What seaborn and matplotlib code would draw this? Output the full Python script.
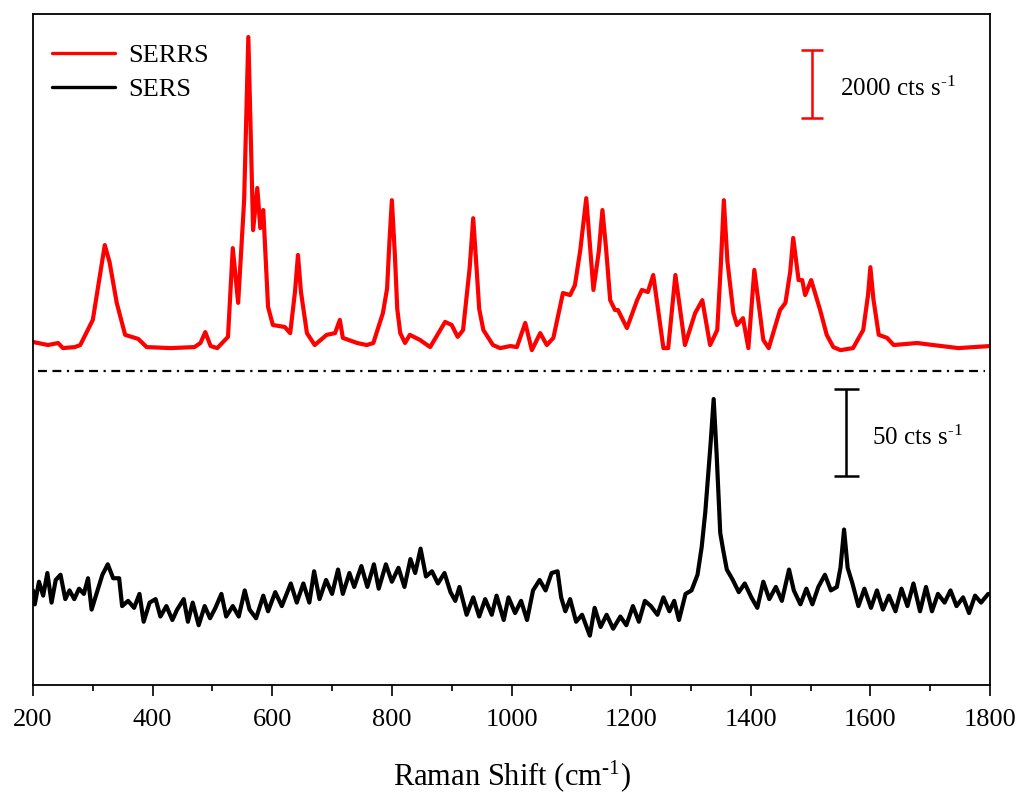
import numpy as np
import pandas as pd
import matplotlib
matplotlib.use("Agg")
import matplotlib.pyplot as plt
from matplotlib.ticker import MultipleLocator
import seaborn as sns

# ---------------- data ----------------
serrs_shift = [200, 225, 242, 250, 270, 279, 300, 312, 320, 328, 340, 354, 376, 390, 430, 470, 480,
               488, 497, 508, 526, 534, 543, 553, 560, 568, 575, 580, 585, 593, 601, 621,
               630, 638, 643, 648, 658, 671, 691, 705, 713, 718, 742, 758, 769, 785, 792, 796, 800,
               805, 809, 814, 822,
               830, 847, 864, 889, 900, 910, 919, 930, 936, 942, 946, 953, 969, 981, 998, 1009, 1023,
               1034,
               1048, 1059, 1070, 1086, 1098, 1106, 1115, 1125, 1137, 1146, 1152, 1158, 1165, 1173, 1178,
               1193, 1210, 1218, 1228, 1237, 1254, 1262, 1274, 1290, 1307, 1319, 1332, 1344,
               1350, 1355, 1361, 1371, 1377, 1387, 1396, 1406, 1421, 1430, 1449, 1458, 1466, 1471,
               1480, 1486,
               1491, 1501, 1516, 1527, 1538, 1550, 1571, 1588, 1596, 1600, 1605, 1614, 1628, 1639,
               1678, 1705, 1747, 1800]
serrs_counts = [530, 440, 500, 350, 380, 440, 1180, 2500, 3380, 2880, 1680, 740, 620, 380, 350, 380, 500,
                820, 410, 350, 680, 3290, 1680, 4700, 9500, 3820, 5060, 3880, 4410, 1560, 1030, 970,
                790, 2000, 3090, 2000, 790, 440, 740, 790, 1180, 650, 500, 440, 500, 1380, 2100, 3500, 4700,
                3100, 1500, 790, 500,
                740, 590, 380, 1120, 1030, 680, 880, 2700, 4170, 2600, 1500, 880, 440, 350, 410, 380, 1090,
                290,
                790, 440, 650, 1970, 1910, 2200, 3230, 4760, 2060, 3200, 4410, 3300, 1760, 1470, 1470,
                940, 1760, 2060, 2000, 2500, 350, 350, 2500, 440, 1380, 1760, 440, 880,
                2800, 4700, 2900, 1380, 1030, 1230, 350, 2650, 590, 350, 1470, 1680, 2600, 3590,
                2350, 2350,
                1910, 2350, 1470, 740, 380, 290, 350, 880, 1900, 2730, 1800, 740, 650, 440,
                500, 440, 350, 410]

sers_shift = [200, 203, 210, 217, 224, 231, 238, 246, 254, 261, 269, 277, 285, 292, 298, 308,
              316, 325, 334, 344, 349, 359, 369, 378, 385, 395, 405, 413, 423, 433, 441, 452,
              459, 467, 477, 487, 496, 505, 515, 523, 534, 544, 554, 562, 573, 585, 593, 605,
              616, 631, 641, 652, 662, 670, 679, 690, 700, 710, 718, 729, 737, 749, 759, 770,
              778, 790, 800, 811, 821, 831, 839, 848, 857, 867, 877, 888, 898, 906, 913, 925,
              936, 946, 956, 967, 975, 987, 995, 1006, 1016, 1026, 1036, 1047, 1057, 1067, 1077,
              1083, 1090, 1098, 1108, 1118, 1131, 1139, 1149, 1159, 1170, 1182, 1192, 1203, 1213,
              1223, 1233, 1244, 1254, 1264, 1272, 1280, 1291, 1301, 1311, 1318, 1324, 1333, 1338,
              1343, 1349, 1354, 1360, 1370, 1380, 1390, 1401, 1411, 1421, 1431, 1442, 1452, 1464,
              1472, 1483, 1493, 1503, 1513, 1524, 1534, 1544, 1550, 1556, 1562, 1570, 1580, 1590,
              1601, 1611, 1621, 1631, 1642, 1652, 1662, 1672, 1683, 1693, 1703, 1713, 1724, 1734,
              1744, 1755, 1765, 1775, 1785, 1797]
sers_counts = [17, 9, 22, 14, 27, 10, 23, 26, 12, 17, 12, 18, 15, 24, 6, 17,
               26, 32, 24, 24, 8, 11, 7, 15, -1, 10, 12, 2, 8, 0, 6, 12,
               -1, 10, -3, 8, 1, 7, 15, 2, 8, 2, 17, 6, 1, 14, 5, 16,
               8, 21, 10, 21, 10, 28, 12, 23, 15, 29, 15, 27, 19, 31, 19, 32,
               18, 32, 22, 30, 19, 35, 27, 41, 25, 28, 21, 27, 16, 11, 19, 3,
               13, 2, 12, 3, 14, 0, 13, 4, 11, 0, 17, 23, 17, 27, 28,
               13, 5, 12, -1, 3, -9, 7, -4, 3, -5, 2, -3, 8, -1,
               11, 8, 3, 13, 5, 11, 0, 15, 17, 26, 42, 62, 102, 127,
               95, 50, 40, 29, 23, 16, 21, 13, 7, 22, 12, 19, 11, 29,
               17, 9, 18, 9, 19, 26, 17, 19, 30, 52, 30, 21, 8, 18,
               7, 17, 6, 14, 5, 18, 8, 21, 5, 19, 5, 15, 10, 17,
               8, 13, 4, 14, 10, 15]

series_labels = ["SERRS", "SERS"]
xticks = [200, 400, 600, 800, 1000, 1200, 1400, 1600, 1800]
scale_labels = [r"2000 cts s$^{\text{-1}}$", r"50 cts s$^{\text{-1}}$"]
scale_values = [2000, 50]

# ---------------- style ----------------
sns.set_style("ticks")
plt.rcParams["font.family"] = ["Liberation Serif", "DejaVu Serif"]
plt.rcParams["mathtext.fontset"] = "custom"
plt.rcParams["mathtext.rm"] = "Liberation Serif"
plt.rcParams["mathtext.it"] = "Liberation Serif:italic"
plt.rcParams["mathtext.default"] = "regular"
plt.rcParams["text.color"] = "black"
plt.rcParams["axes.labelcolor"] = "black"
plt.rcParams["xtick.color"] = "black"
plt.rcParams["xtick.labelcolor"] = "black"

# display scaling for the stacked spectra
red_gain, red_off = 0.034, 325.0
blk_gain, blk_off = 1.74, 65.0

df_r = pd.DataFrame({"shift": serrs_shift,
                     "y": np.array(serrs_counts) * red_gain + red_off,
                     "series": series_labels[0]})
df_b = pd.DataFrame({"shift": sers_shift,
                     "y": np.array(sers_counts) * blk_gain + blk_off,
                     "series": series_labels[1]})
df = pd.concat([df_r, df_b], ignore_index=True)

fig = plt.figure(figsize=(10.21, 8.02), dpi=100)
ax = fig.add_axes([33 / 1021, 1 - 685 / 802, (990 - 33) / 1021, (685 - 14) / 802])

sns.lineplot(data=df, x="shift", y="y", hue="series",
             palette={"SERRS": "#ff0000", "SERS": "#000000"},
             linewidth=3.0, sort=False, estimator=None, ax=ax)

# separator line
ax.axhline(314, xmin=0.005, xmax=0.995, color="black", lw=1.6,
           dashes=(4, 2.5, 4, 2.5, 1, 2.5))

# scale bars
ax.errorbar([1503], [601], yerr=[scale_values[0] * red_gain / 2], color="#ff0000",
            capsize=8, capthick=1.8, elinewidth=1.8, fmt="none")
ax.text(1550, 596, scale_labels[0], fontsize=18, va="center", ha="left")
ax.errorbar([1560], [252.5], yerr=[scale_values[1] * blk_gain / 2], color="black",
            capsize=9, capthick=1.8, elinewidth=1.8, fmt="none")
ax.text(1603, 247, scale_labels[1], fontsize=18, va="center", ha="left")

ax.set_xlim(200, 1800)
ax.set_ylim(0, 671)
ax.set_xticks(xticks)
ax.xaxis.set_minor_locator(MultipleLocator(100))
ax.set_yticks([])
ax.tick_params(axis="x", which="major", direction="out", length=8, width=1.2,
               labelsize=19, pad=9, colors="black")
ax.tick_params(axis="x", which="minor", direction="out", length=4.5, width=1.2,
               colors="black")
for s in ax.spines.values():
    s.set_visible(True)
    s.set_linewidth(1.3)
    s.set_color("black")

ax.set_xlabel(r"Raman Shift (cm$^{\text{-1}}$)", fontsize=22, labelpad=20, color="black")
ax.set_ylabel("")

leg = ax.legend(loc="upper left", bbox_to_anchor=(0.0088, 0.972), frameon=False,
                fontsize=19, handlelength=2.4, handletextpad=0.5, borderaxespad=0,
                labelspacing=0.42)
for h in leg.get_lines():
    h.set_linewidth(2.4)
for t in leg.get_texts():
    t.set_color("black")

fig.savefig("out.png", dpi=100)
